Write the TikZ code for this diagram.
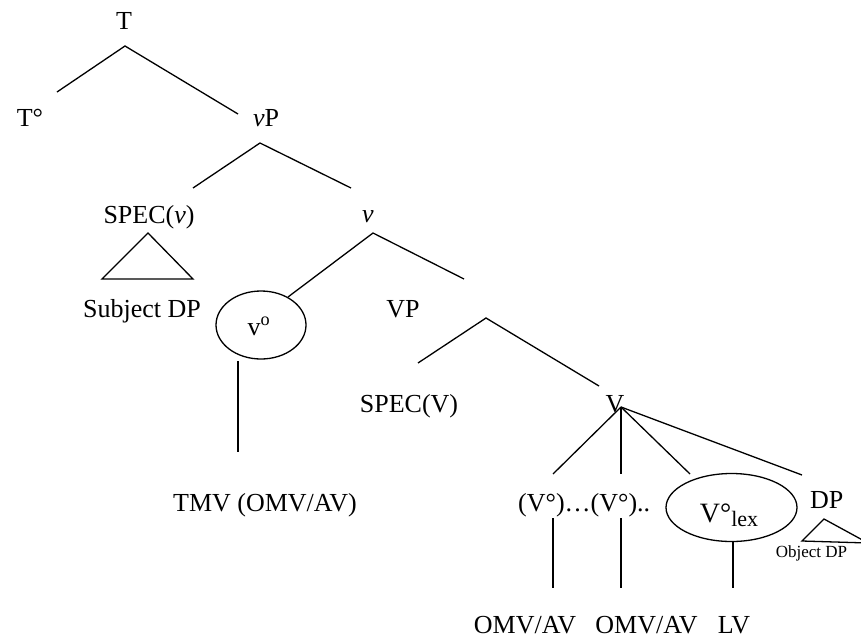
\documentclass[tikz,border=0pt]{standalone}
\usepackage{fontspec}
\setmainfont{Liberation Serif}
\usetikzlibrary{shapes.geometric}
\begin{document}
\begin{tikzpicture}[x=1pt,y=-1pt,
  lbl/.style={anchor=base,inner sep=0pt,font=\fontsize{26}{30}\selectfont},
  small/.style={anchor=base,inner sep=0pt,font=\fontsize{17}{20}\selectfont},
  br/.style={line width=1.3pt,line cap=butt},
  ring/.style={draw,line width=1.3pt,ellipse,inner sep=0pt}]
\useasboundingbox (0,0) rectangle (861,637);
% labels
\node[lbl] (T) at (124,29) {T};
\node[lbl] (To) at (30,126) {T°};
\node[lbl] (vP) at (266,126) {\textit{v}P};
\node[lbl] (specv) at (149,223) {SPEC(\textit{v})};
\node[lbl] (v) at (368,222) {\textit{v}};
\node[lbl] (subj) at (142,317) {Subject DP};
\node[lbl] (VP) at (403,317) {VP};
\node[lbl] (specV) at (409,412) {SPEC(V)};
\node[lbl] (V) at (615,412) {V};
\node[lbl] (tmv) at (265,511) {TMV (OMV/AV)};
\node[lbl,anchor=base west] (vos) at (518,511) {(V°)…(V°)..};
\node[lbl,anchor=base west] (DP) at (810,508) {DP};
\node[small] (obj) at (811.5,557) {Object DP};
\node[lbl] (omv1) at (525,633) {OMV/AV};
\node[lbl] (omv2) at (646.5,633) {OMV/AV};
\node[lbl] (LV) at (734,633) {LV};
% ellipses
\node[ring,minimum width=90pt,minimum height=68pt] (vo) at (261,325) {};
\node[lbl] (votext) at (259,335) {v\textsuperscript{o}};
\node[ring,minimum width=131pt,minimum height=68pt] (vlex) at (731.5,507.5) {};
\node[anchor=base,inner sep=0pt] (vlextext) at (729,522) {\fontsize{28}{30}\selectfont V°\raisebox{-4pt}{\fontsize{22}{24}\selectfont lex}};
% branch points
\coordinate (t0) at (125,46); \coordinate (t1) at (57,92); \coordinate (t2) at (238,114);
\coordinate (p0) at (260,143); \coordinate (p1) at (193,188); \coordinate (p2) at (351,188);
\coordinate (s0) at (148,233); \coordinate (s1) at (102,279); \coordinate (s2) at (193,279);
\coordinate (a0) at (373,233); \coordinate (a1) at (288,297); \coordinate (a2) at (464,279);
\coordinate (b0) at (238,361); \coordinate (b1) at (238,452);
\coordinate (c0) at (486,318); \coordinate (c1) at (418,363); \coordinate (c2) at (599,386);
\coordinate (d0) at (621,407); \coordinate (d1) at (553,474); \coordinate (d2) at (621,474);
\coordinate (d3) at (690,474); \coordinate (d4) at (802,475);
\coordinate (e1) at (553,518); \coordinate (e1b) at (553,588);
\coordinate (e2) at (621,518); \coordinate (e2b) at (621,588);
\coordinate (e3) at (733,542); \coordinate (e3b) at (733,588);
\coordinate (o0) at (824,519); \coordinate (o1) at (802,541); \coordinate (o2) at (868,543);
% branches
\draw[br] (t1) -- (t0) -- (t2);
\draw[br] (p1) -- (p0) -- (p2);
\draw[br,line join=miter] (s0) -- (s1) -- (s2) -- cycle;
\draw[br] (a1) -- (a0) -- (a2);
\draw[br] (b0) -- (b1);
\draw[br] (c1) -- (c0) -- (c2);
\draw[br] (d0) -- (d1);
\draw[br] (d0) -- (d2);
\draw[br] (d0) -- (d3);
\draw[br] (d0) -- (d4);
\draw[br] (e1) -- (e1b);
\draw[br] (e2) -- (e2b);
\draw[br] (e3) -- (e3b);
\begin{scope}
\clip (0,0) rectangle (861,637);
\draw[br,line join=miter] (o1) -- (o0) -- (o2) -- cycle;
\end{scope}
\end{tikzpicture}
\end{document}
